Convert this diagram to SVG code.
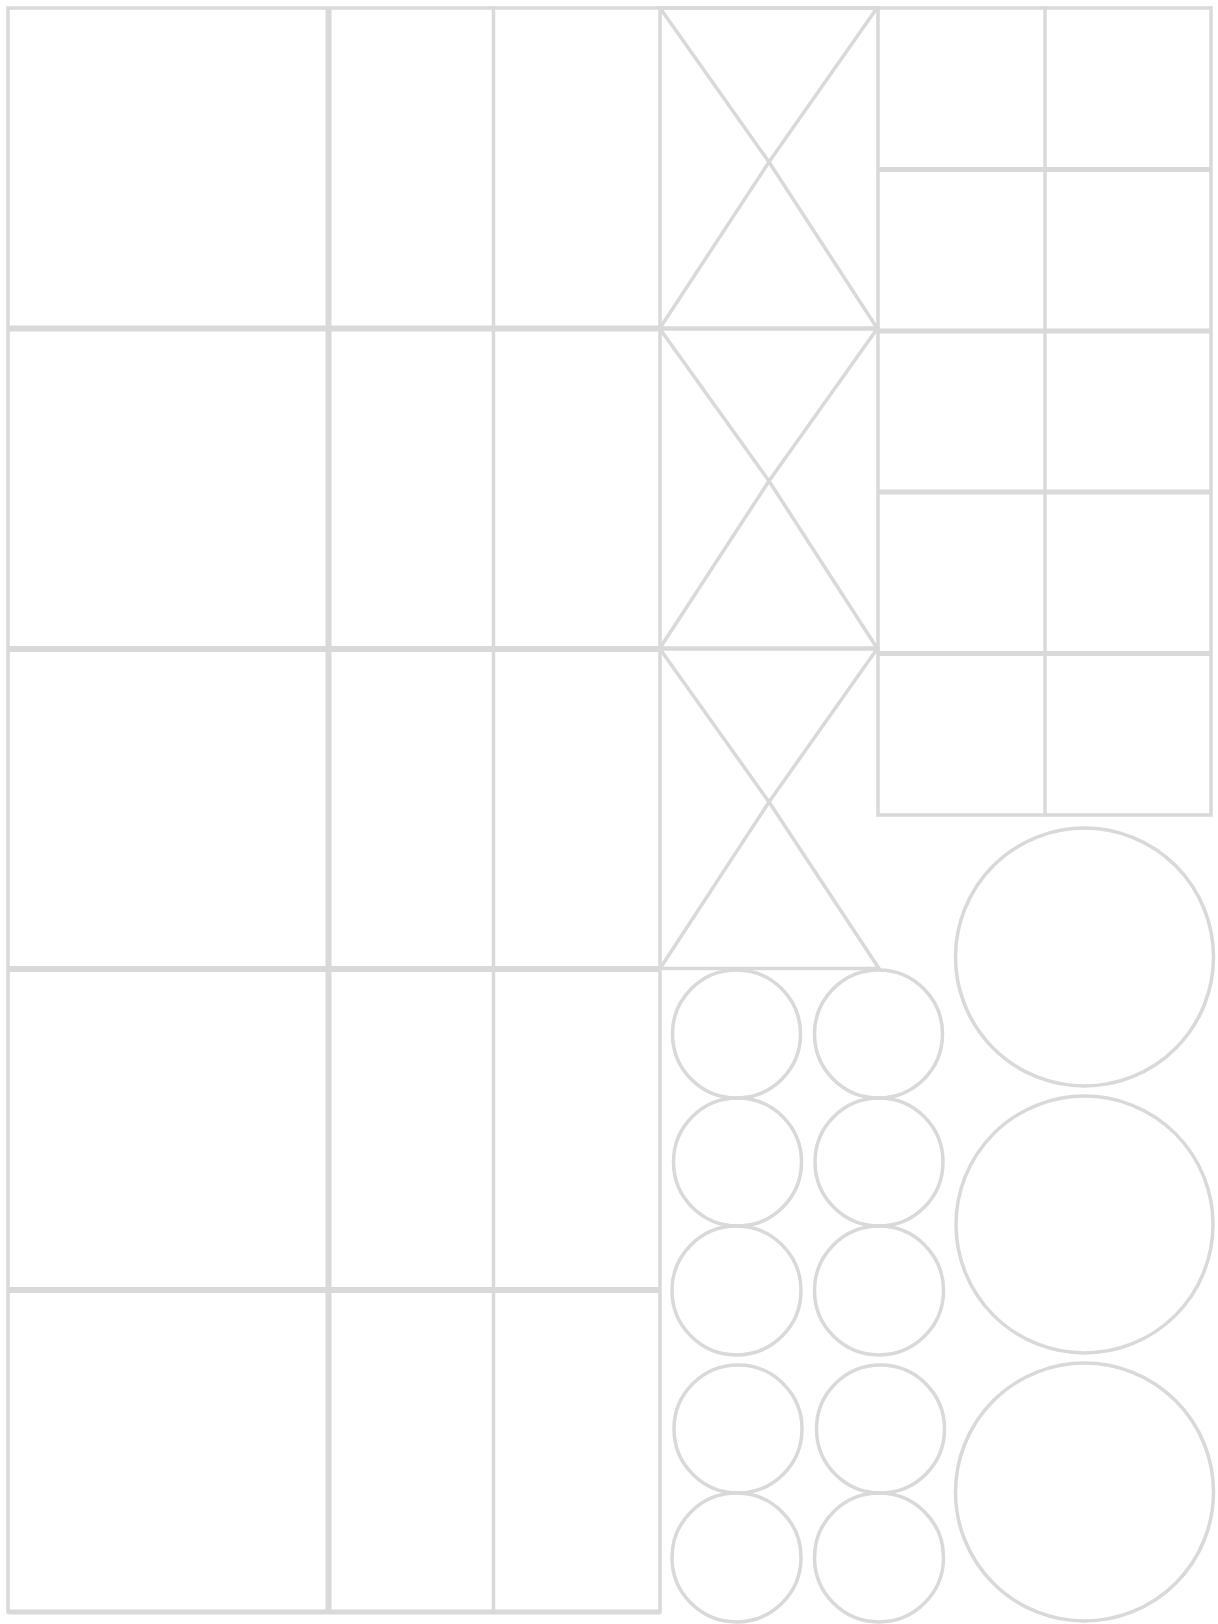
<svg xmlns="http://www.w3.org/2000/svg" width="1218" height="1624" viewBox="0 0 1218 1624">
<style>
.l{stroke:#d9d9d9;fill:none;stroke-width:3.5;stroke-linecap:square;stroke-linejoin:miter}
.t{stroke-width:6;stroke-linecap:butt}
.m{stroke-width:5;stroke-linecap:butt}
.c{stroke:#d9d9d9;fill:none;stroke-width:3.5}
</style>
<rect width="1218" height="1624" fill="#fff"/>
<g id="left-grid" class="l">
<rect x="8" y="8" width="652" height="1604"/>
<line x1="328.5" y1="8" x2="328.5" y2="1612" class="t"/>
<line x1="493.5" y1="8" x2="493.5" y2="1612"/>
<line x1="8" y1="328.5" x2="660" y2="328.5" class="t"/>
<line x1="8" y1="649" x2="660" y2="649" class="t"/>
<line x1="8" y1="969" x2="660" y2="969" class="t"/>
<line x1="8" y1="1290" x2="660" y2="1290" class="t"/>
<line x1="8" y1="1612" x2="660" y2="1612" class="m"/>
</g>
<g id="x-panels" class="l">
<line x1="660" y1="8" x2="878" y2="8"/>
<polygon points="660,8 877,8 769,162"/>
<polygon points="769,162 660,328 877,328"/>
<polygon points="660,329 877,329 769,481"/>
<polygon points="769,481 660,648 877,648"/>
<polygon points="660,649 877,649 769,802"/>
<polygon points="769,802 660,968.5 879,968.5"/>
</g>
<g id="right-grid" class="l">
<rect x="878" y="8" width="333" height="807"/>
<line x1="1045" y1="8" x2="1045" y2="815"/>
<line x1="878" y1="169.5" x2="1211" y2="169.5" class="m"/>
<line x1="878" y1="331" x2="1211" y2="331" class="m"/>
<line x1="878" y1="492" x2="1211" y2="492" class="m"/>
<line x1="878" y1="653.5" x2="1211" y2="653.5" class="m"/>
</g>
<g id="small-circles" class="c">
<circle cx="736.5" cy="1034" r="64"/>
<circle cx="878.5" cy="1034" r="64"/>
<circle cx="737.5" cy="1162" r="64"/>
<circle cx="879" cy="1162" r="64"/>
<circle cx="736.5" cy="1290.5" r="64.5"/>
<circle cx="879" cy="1290.5" r="64.5"/>
<circle cx="738" cy="1429" r="64"/>
<circle cx="880.5" cy="1429" r="64"/>
<circle cx="736.5" cy="1557.5" r="64.5"/>
<circle cx="879" cy="1557.5" r="64.5"/>
</g>
<g id="big-circles" class="c">
<circle cx="1084.5" cy="957" r="129"/>
<circle cx="1084.5" cy="1224.5" r="128.5"/>
<circle cx="1084.5" cy="1492" r="129"/>
</g>
</svg>
